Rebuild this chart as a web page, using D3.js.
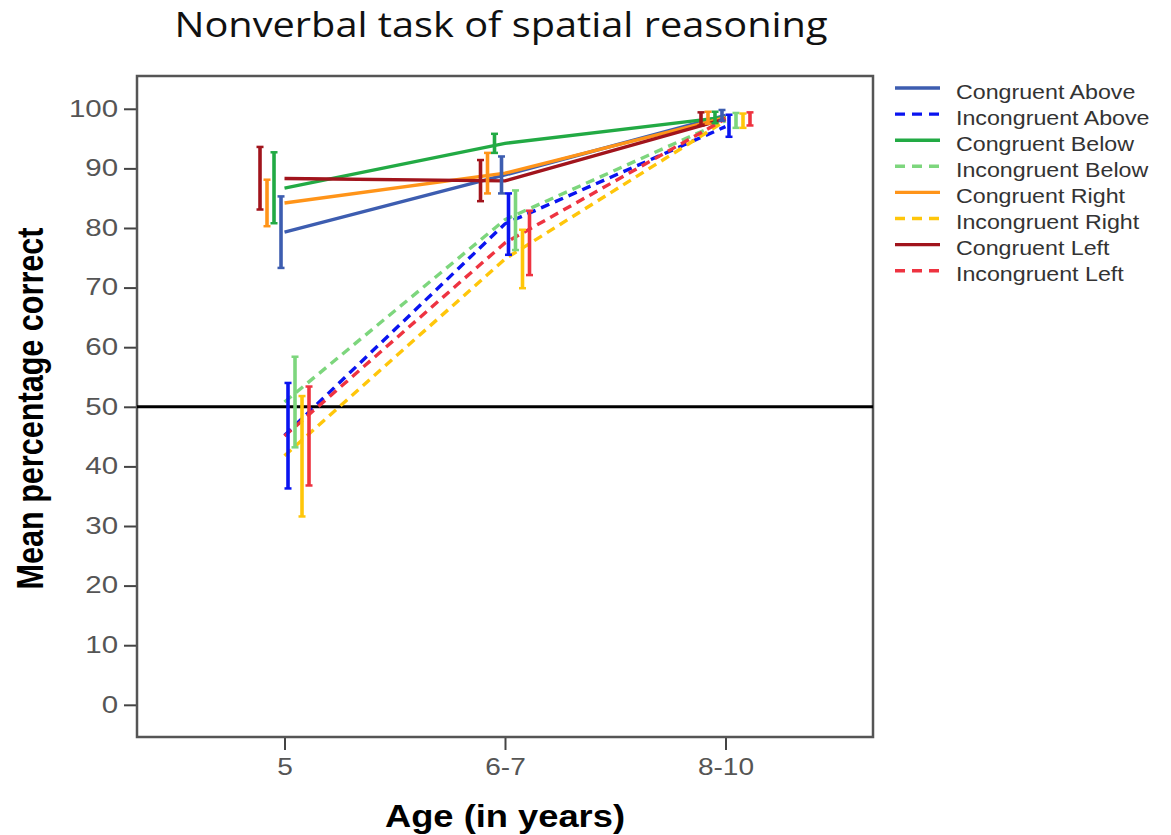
<!DOCTYPE html>
<html>
<head>
<meta charset="utf-8">
<script src="https://cdn.jsdelivr.net/npm/d3@7"></script>
<style>
  body { margin: 0; background: #fff; }
  svg { display: block; }
</style>
</head>
<body>
<div id="chart"></div>
<script>
// age groups on the x axis
const ages = ["5", "6-7", "8-10"];
const yTicks = [0, 10, 20, 30, 40, 50, 60, 70, 80, 90, 100];

// series in legend order
const seriesNames = [
  "Congruent Above", "Incongruent Above",
  "Congruent Below", "Incongruent Below",
  "Congruent Right", "Incongruent Right",
  "Congruent Left", "Incongruent Left"
];
const seriesColors = ["#3d5db0", "#0a14f0", "#22aa44", "#7dd67d", "#ff9419", "#ffc60a", "#a1141c", "#ee3340"];
const seriesDashed = [false, true, false, true, false, true, false, true];
// position of each series inside an age cluster (left to right)
const dodgeSlot = [3, 4, 2, 5, 1, 6, 0, 7];

// mean percentage correct per series, per age group
const congruentAbove   = [79.3, 88.9, 98.9];
const incongruentAbove = [45.2, 80.7, 97.0];
const congruentBelow   = [86.7, 94.2, 98.6];
const incongruentBelow = [50.8, 81.4, 98.0];
const congruentRight   = [84.2, 89.2, 98.5];
const incongruentRight = [41.8, 74.8, 98.0];
const congruentLeft    = [88.3, 87.9, 98.3];
const incongruentLeft  = [45.1, 77.5, 98.3];

// error bar limits
const lowCA = [73.3, 85.8, 98.0], highCA = [85.3, 92.0, 99.8];
const lowIA = [36.3, 75.5, 95.3], highIA = [54.0, 85.8, 99.0];
const lowCB = [80.8, 92.6, 97.6], highCB = [92.7, 95.8, 99.5];
const lowIB = [43.2, 76.3, 96.8], highIB = [58.4, 86.3, 99.3];
const lowCR = [80.3, 85.8, 97.5], highCR = [88.1, 92.6, 99.5];
const lowIR = [31.6, 69.9, 96.8], highIR = [51.8, 79.7, 99.2];
const lowCL = [83.1, 84.5, 97.2], highCL = [93.6, 91.4, 99.4];
const lowIL = [36.8, 72.1, 97.2], highIL = [53.4, 82.9, 99.4];

const chanceLevel = 50;

const means = [congruentAbove, incongruentAbove, congruentBelow, incongruentBelow,
               congruentRight, incongruentRight, congruentLeft, incongruentLeft];
const lows = [lowCA, lowIA, lowCB, lowIB, lowCR, lowIR, lowCL, lowIL];
const highs = [highCA, highIA, highCB, highIB, highCR, highIR, highCL, highIL];

const series = seriesNames.map((name, i) => ({
  name: name,
  color: seriesColors[i],
  dashed: seriesDashed[i],
  slot: dodgeSlot[i],
  values: ages.map((a, j) => ({ age: a, mean: means[i][j], low: lows[i][j], high: highs[i][j] }))
}));

const W = 1171, H = 835;
const frame = { left: 137, right: 873, top: 76, bottom: 737 };

const svg = d3.select("#chart").append("svg")
  .attr("width", W).attr("height", H);

// the original picture is a bit wider than tall, so text gets stretched sideways
function stretch(sel, k) {
  sel.each(function() {
    const len = this.getComputedTextLength();
    d3.select(this)
      .attr("textLength", len * k)
      .attr("lengthAdjust", "spacingAndGlyphs");
  });
}

const x = d3.scalePoint()
  .domain(ages)
  .range([frame.left, frame.right])
  .padding(0.669);

const y = d3.scaleLinear()
  .domain([-5.4, 105.5])
  .range([frame.bottom, frame.top]);

const slotWidth = 7;
const dodge = s => (s - 3.5) * slotWidth;

// title
svg.append("text")
  .attr("x", 501).attr("y", 37)
  .attr("text-anchor", "middle")
  .style("font-family", "'Open Sans', Lato, sans-serif")
  .style("font-size", "34px")
  .style("fill", "#111")
  .text("Nonverbal task of spatial reasoning")
  .attr("textLength", 653)
  .attr("lengthAdjust", "spacingAndGlyphs");

// y axis
const yAxis = svg.append("g")
  .attr("transform", `translate(${frame.left},0)`)
  .call(d3.axisLeft(y).tickValues(yTicks).tickSize(13).tickPadding(6));
yAxis.select(".domain").remove();
yAxis.selectAll(".tick line").attr("stroke", "#444").attr("stroke-width", 2);
yAxis.selectAll(".tick text")
  .style("font-family", "'Liberation Sans', Arial, sans-serif")
  .style("font-size", "23px")
  .style("fill", "#555")
  .call(stretch, 1.28);

// x axis
const xAxis = svg.append("g")
  .attr("transform", `translate(0,${frame.bottom})`)
  .call(d3.axisBottom(x).tickSize(13).tickPadding(9));
xAxis.select(".domain").remove();
xAxis.selectAll(".tick line").attr("stroke", "#444").attr("stroke-width", 2);
xAxis.selectAll(".tick text")
  .style("font-family", "'Liberation Sans', Arial, sans-serif")
  .style("font-size", "23px")
  .style("fill", "#555")
  .call(stretch, 1.22);

// frame
svg.append("rect")
  .attr("x", frame.left).attr("y", frame.top)
  .attr("width", frame.right - frame.left)
  .attr("height", frame.bottom - frame.top)
  .attr("fill", "none")
  .attr("stroke", "#555")
  .attr("stroke-width", 2.5);

// axis titles
svg.append("text")
  .attr("transform", `translate(43,${(frame.top + frame.bottom) / 2 + 2}) scale(1.25,1) rotate(-90)`)
  .attr("text-anchor", "middle")
  .style("font-family", "'Liberation Sans Narrow', 'Liberation Sans', Arial, sans-serif")
  .style("font-weight", "bold")
  .style("font-size", "30px")
  .style("fill", "#000")
  .text("Mean percentage correct")
  .attr("textLength", 362)
  .attr("lengthAdjust", "spacingAndGlyphs");

svg.append("text")
  .attr("x", 505).attr("y", 827)
  .attr("text-anchor", "middle")
  .style("font-family", "'Liberation Sans', Arial, sans-serif")
  .style("font-weight", "bold")
  .style("font-size", "31px")
  .style("fill", "#000")
  .text("Age (in years)")
  .attr("textLength", 240)
  .attr("lengthAdjust", "spacingAndGlyphs");

// chance line
svg.append("line")
  .attr("x1", frame.left).attr("x2", frame.right)
  .attr("y1", y(chanceLevel)).attr("y2", y(chanceLevel))
  .attr("stroke", "#000")
  .attr("stroke-width", 3);

// mean lines
const line = d3.line()
  .x(d => x(d.age))
  .y(d => y(d.mean));

svg.append("g").selectAll("path")
  .data(series)
  .enter()
  .append("path")
  .attr("d", d => line(d.values))
  .attr("fill", "none")
  .attr("stroke", d => d.color)
  .attr("stroke-width", 3.4)
  .attr("stroke-dasharray", d => d.dashed ? "9,6" : null);

// error bars
const bars = svg.append("g").selectAll("g")
  .data(series)
  .enter()
  .append("g")
  .attr("stroke", d => d.color);

bars.selectAll(".bar")
  .data(d => d.values.map(v => ({ ...v, slot: d.slot })))
  .enter()
  .append("line")
  .attr("class", "bar")
  .attr("x1", d => x(d.age) + dodge(d.slot))
  .attr("x2", d => x(d.age) + dodge(d.slot))
  .attr("y1", d => y(d.low))
  .attr("y2", d => y(d.high))
  .attr("stroke-width", 3.6);

bars.selectAll(".cap")
  .data(d => d.values.flatMap(v => [
    { age: v.age, val: v.low, slot: d.slot },
    { age: v.age, val: v.high, slot: d.slot }
  ]))
  .enter()
  .append("line")
  .attr("class", "cap")
  .attr("x1", d => x(d.age) + dodge(d.slot) - 3.5)
  .attr("x2", d => x(d.age) + dodge(d.slot) + 3.5)
  .attr("y1", d => y(d.val))
  .attr("y2", d => y(d.val))
  .attr("stroke-width", 2.5);

// legend
const legend = svg.append("g")
  .attr("transform", "translate(895,88)");

const items = legend.selectAll("g")
  .data(series)
  .enter()
  .append("g")
  .attr("transform", (d, i) => `translate(0,${i * 26.1})`);

items.append("line")
  .attr("x1", 0).attr("x2", 45)
  .attr("y1", 0).attr("y2", 0)
  .attr("stroke", d => d.color)
  .attr("stroke-width", 3.4)
  .attr("stroke-dasharray", d => d.dashed ? "10,7" : null);

items.append("text")
  .attr("x", 61).attr("y", 10.5)
  .style("font-family", "'Liberation Sans', Arial, sans-serif")
  .style("font-size", "19.5px")
  .style("fill", "#333")
  .text(d => d.name)
  .call(stretch, 1.19);
</script>
</body>
</html>
